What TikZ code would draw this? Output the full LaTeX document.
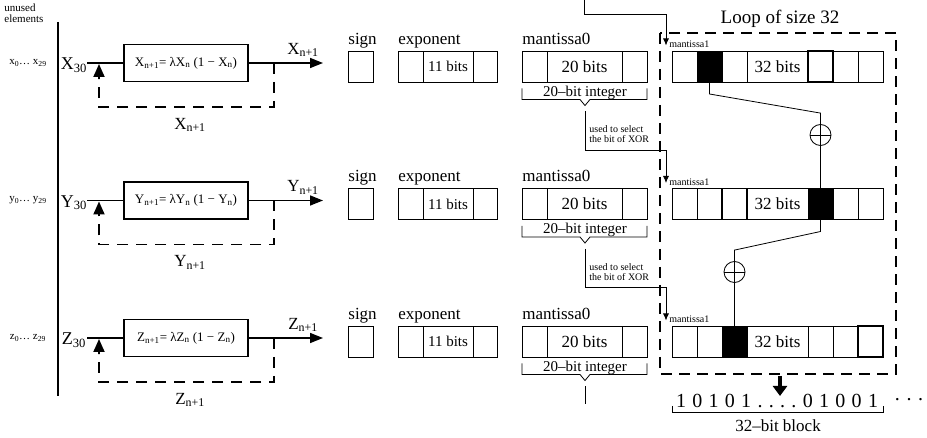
\documentclass[tikz,border=0pt]{standalone}
\usepackage{fontspec}
\setmainfont{Liberation Serif}
\usetikzlibrary{arrows.meta,calc}

\begin{document}
\begin{tikzpicture}[x=1pt,y=-1pt,line width=0.8pt,
  txt/.style={inner sep=0pt,font=\fontsize{#1}{#1}\selectfont},
  cell/.style={draw,line width=0.8pt,minimum height=31pt,minimum width=25pt,inner sep=0pt,outer sep=0pt},
  eqbox/.style={draw,line width=1.4pt,minimum width=124pt,minimum height=37pt,inner sep=0pt,font=\fontsize{13}{13}\selectfont},
  mainline/.style={line width=1.5pt},
  fbline/.style={line width=1.8pt,dash pattern=on 11pt off 8pt},
  fbtip/.style={line width=1.8pt,-{Triangle[width=11pt,length=13pt]}},
  loopline/.style={line width=2pt,dash pattern=on 11pt off 7pt},
  xorc/.style={draw,circle,minimum size=21pt,inner sep=0pt}]
  \useasboundingbox (0,0) rectangle (927,438);

  % unused elements and the separating bar
  \node[txt=11,align=left,anchor=north west] (unused) at (4,3) {unused\\elements};
  \coordinate (bartop) at (58,22);
  \coordinate (barbot) at (58,396);
  \draw[line width=2pt] (bartop) -- (barbot);

  \foreach \r/\V/\v/\m/\blk/\bld in {1/X/x/63/2/5,2/Y/y/200.5/5/3,3/Z/z/338/3/7}{
    \pgfmathsetmacro\cy{\m+3.5}
    % logistic map
    \node[txt=11] (low\r) at (28,\m) {\v\textsubscript{0}\ldots\ \v\textsubscript{29}};
    \node[txt=18] (in\r) at (74,\m+2) {\V\textsubscript{30}};
    \node[eqbox] (eq\r) at (186,\m) {\V\textsubscript{n+1}= λ\V\textsubscript{n} (1 − \V\textsubscript{n})};
    \coordinate (st\r) at (87,\m);
    \coordinate (tip\r) at (323,\m);
    \draw[mainline] (st\r) -- (eq\r.west);
    \draw[mainline,-{Triangle[width=10pt,length=13pt]}] (eq\r.east) -- (tip\r);
    \node[txt=17] (out\r) at (303,\m-13) {\V\textsubscript{n+1}};
    \coordinate (fb\r) at (274,\m);
    \coordinate (fbmid\r) at (99,\m+16);
    \coordinate (fbend\r) at (99,\m+1);
    \draw[fbline] (fb\r) -- ++(0,44) -| (fbmid\r);
    \draw[fbtip] (fbmid\r) -- (fbend\r);
    \node[txt=17] (back\r) at (190,\m+62) {\V\textsubscript{n+1}};
    % double layout
    \node[txt=17,anchor=base west] (sgn\r) at (348,\cy-22) {sign};
    \node[txt=17,anchor=base west] (exl\r) at (398,\cy-22) {exponent};
    \node[txt=17,anchor=base west] (mal\r) at (522,\cy-22) {mantissa0};
    \node[cell] (sb\r) at (360.5,\cy) {};
    \node[cell] (e\r-1) at (410.5,\cy) {};
    \node[cell,minimum width=50pt,txt=15] (e\r-2) at (448,\cy) {11 bits};
    \node[cell,minimum width=24pt] (e\r-3) at (485,\cy) {};
    \node[cell] (a\r-1) at (534.5,\cy) {};
    \node[cell,minimum width=75pt,txt=17] (a\r-2) at (584.5,\cy) {20 bits};
    \node[cell] (a\r-3) at (634.5,\cy) {};
    \draw (522,\cy+22) -- (522,\cy+33) -- (580,\cy+33) -- (585,\cy+39)
      -- (590,\cy+33) -- (647,\cy+33) -- (647,\cy+22);
    \coordinate (bt\r) at (585,\cy+39);
    \node[txt=15] (int\r) at (585,\cy+26) {20–bit integer};
    % mantissa1
    \foreach \i/\cx/\w in {1/684.5/25,2/709.5/25,3/734.5/25,4/777.5/61,5/820.5/25,6/845.5/25,7/870.5/25}
      \node[cell,minimum width=\w pt] (m\r-\i) at (\cx,\cy) {};
    \fill (m\r-\blk.south west) rectangle (m\r-\blk.north east);
    \draw[line width=1.5pt] (m\r-\bld.south west) rectangle (m\r-\bld.north east);
    \node[txt=17] at (m\r-4) {32 bits};
    \coordinate (sel\r) at (666,\cy-21);
    \node[txt=10,anchor=west] (ml\r) at (669,\cy-22) {mantissa1};
  }

  % selectors
  \coordinate (top) at (584,0);
  \draw[-{Latex[length=7pt,width=6pt]}] (top) -- ++(0,14) -| (sel1);
  \foreach \r/\n in {1/2,2/3}{
    \draw[-{Latex[length=7pt,width=6pt]}] (bt\r) ++(0,6) -- ++(0,38.5) -| (sel\n);
    \node[txt=10,align=left,anchor=west] (use\r) at ($(bt\r)+(4,29)$) {used to select\\the bit of XOR};
  }
  \draw (bt3) ++(0,6) -- ++(0,18);

  % loop and xor
  \draw[loopline] (660,33) rectangle (896,374);
  \node[txt=19] (loop) at (780,19) {Loop of size 32};
  \node[xorc] (xor1) at (820.5,135) {};
  \node[xorc] (xor2) at (734.5,272) {};
  \draw (xor1.west) -- (xor1.east) (xor2.west) -- (xor2.east);
  \draw (m1-2.south) -- ++(0,12) -- ([yshift=11pt]xor1.north) -- (xor1.north) -- (xor1.south) -- (m2-5.north);
  \draw (m2-5.south) -- ++(0,12) -- ([yshift=11pt]xor2.north) -- (xor2.north) -- (xor2.south) -- (m3-3.north);

  % output block
  \node[txt=20,text width=202pt] (bits) at (777,401) {1\hfill0\hfill1\hfill0\hfill1\hfill.\hfill.\hfill.\hfill.\hfill0\hfill1\hfill0\hfill0\hfill1};
  \coordinate (dn) at (780,376);
  \draw[line width=3.5pt,-{Triangle[width=14pt,length=10pt]}] (dn) -- ++(0,20);
  \draw (672,406) -- (672,412) -- (883,412) -- (883,406);
  \node[txt=17] (blk) at (778,426) {32–bit block};
  \node[txt=20] (dots) at (909,400) {. . .};
\end{tikzpicture}
\end{document}
